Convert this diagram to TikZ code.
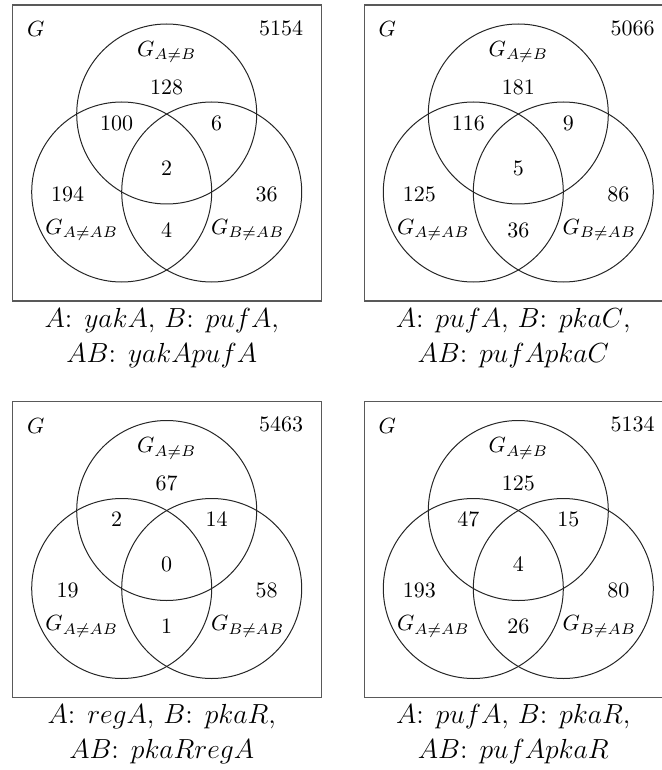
\documentclass[tikz,border=0pt]{standalone}
\usepackage{amsmath,amssymb}
\usepackage{tikz}

% one Venn panel: #1 name prefix, #2 outside, #3 top, #4 top/left,
% #5 top/right, #6 centre, #7 left, #8 right, #9 left/right
\newcommand{\vennpanel}[9]{%
\draw[panelbox] (0,0) rectangle (309,296);
\draw[ring] (154,109) circle [radius=45pt];
\draw[ring] (109,187) circle [radius=45pt];
\draw[ring] (199,187) circle [radius=45pt];
\node[lbl] (#1-g) at (23,24) {$G$};
\node[lbl,anchor=east] (#1-out) at (293,23) {$#2$};
\node[lbl] (#1-gab) at (154,47) {$G_{A\neq B}$};
\node[lbl] (#1-top) at (154,82) {$#3$};
\node[lbl] (#1-tl) at (104,118) {$#4$};
\node[lbl] (#1-tr) at (204,118) {$#5$};
\node[lbl] (#1-mid) at (154,163) {$#6$};
\node[lbl] (#1-l) at (55,189) {$#7$};
\node[lbl] (#1-r) at (254,189) {$#8$};
\node[lbl] (#1-gaab) at (69,225) {$G_{A\neq AB}$};
\node[lbl] (#1-bot) at (154,225) {$#9$};
\node[lbl] (#1-gbab) at (235,225) {$G_{B\neq AB}$};
}

\begin{document}
\begin{tikzpicture}[x=0.5pt,y=-0.5pt,
panelbox/.style={draw=black!65,line width=0.6pt},
ring/.style={draw=black!85,line width=0.5pt},
lbl/.style={inner sep=1pt,scale=1.1,transform shape},
capline/.style={anchor=base,font=\large,inner sep=0pt,scale=1.15,transform shape}]
\clip (0,0) rectangle (662,770);

\begin{scope}[shift={(12.7,5)}]
\vennpanel{p1}{5154}{128}{100}{6}{2}{194}{36}{4}
\node[capline] (p1-c1) at (149,322) {$A$: $yakA$, $B$: $pufA$,};
\node[capline] (p1-c2) at (149,357) {$AB$: $yakApufA$};
\end{scope}

\begin{scope}[shift={(364.3,5)}]
\vennpanel{p2}{5066}{181}{116}{9}{5}{125}{86}{36}
\node[capline] (p2-c1) at (149,322) {$A$: $pufA$, $B$: $pkaC$,};
\node[capline] (p2-c2) at (149,357) {$AB$: $pufApkaC$};
\end{scope}

\begin{scope}[shift={(12.7,401.5)}]
\vennpanel{p3}{5463}{67}{2}{14}{0}{19}{58}{1}
\node[capline] (p3-c1) at (149,322) {$A$: $regA$, $B$: $pkaR$,};
\node[capline] (p3-c2) at (149,357) {$AB$: $pkaRregA$};
\end{scope}

\begin{scope}[shift={(364.3,401.5)}]
\vennpanel{p4}{5134}{125}{47}{15}{4}{193}{80}{26}
\node[capline] (p4-c1) at (149,322) {$A$: $pufA$, $B$: $pkaR$,};
\node[capline] (p4-c2) at (149,357) {$AB$: $pufApkaR$};
\end{scope}
\end{tikzpicture}
\end{document}
